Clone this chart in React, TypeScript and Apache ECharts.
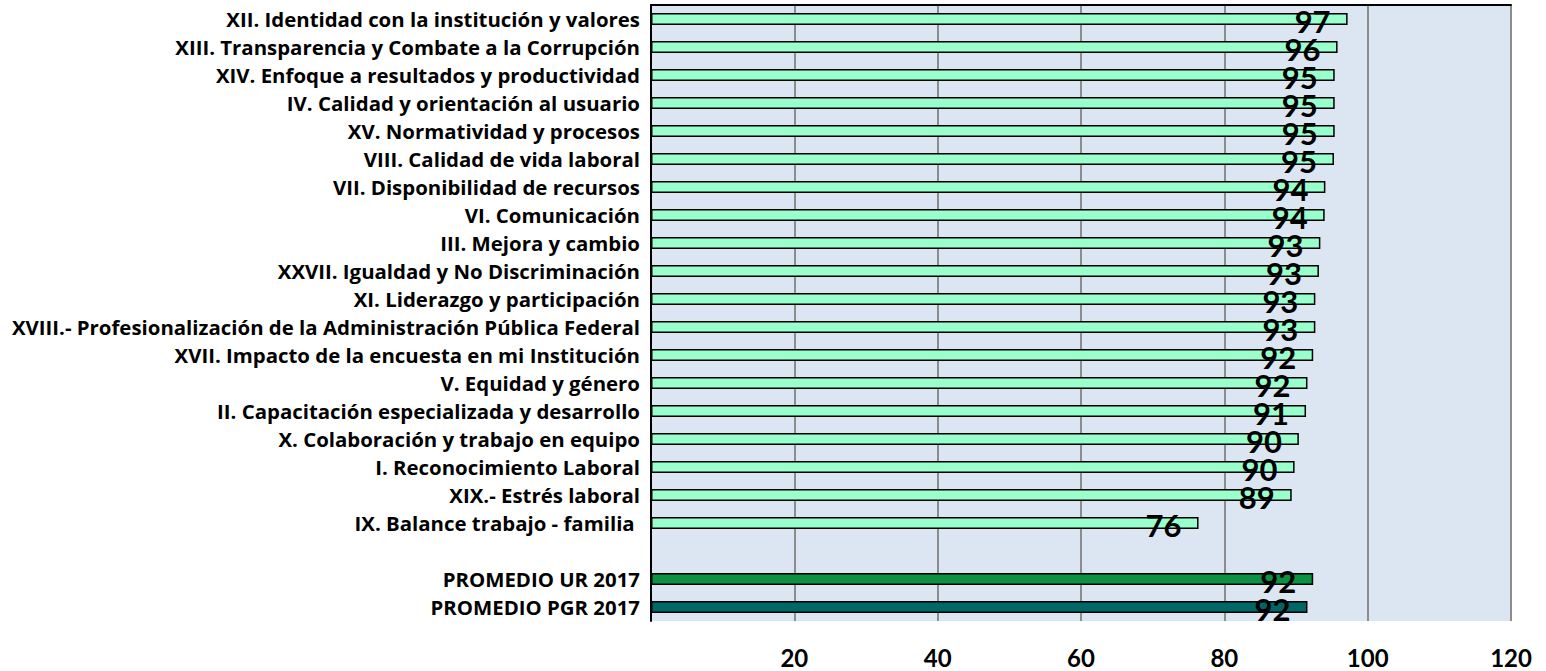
import React, { useEffect, useRef } from "react";
import * as echarts from "echarts";

const categories = [
  "XII. Identidad con la institución y valores",
  "XIII. Transparencia y Combate a la Corrupción",
  "XIV. Enfoque a resultados y productividad",
  "IV. Calidad y orientación al usuario",
  "XV. Normatividad y procesos",
  "VIII. Calidad de vida laboral",
  "VII. Disponibilidad de recursos",
  "VI. Comunicación",
  "III. Mejora y cambio",
  "XXVII. Igualdad y No Discriminación",
  "XI. Liderazgo y participación",
  "XVIII.- Profesionalización de la Administración Pública Federal",
  "XVII. Impacto de la encuesta en mi Institución",
  "V. Equidad y género",
  "II. Capacitación especializada y desarrollo",
  "X. Colaboración y trabajo en equipo",
  "I. Reconocimiento Laboral",
  "XIX.- Estrés laboral",
  "IX. Balance trabajo - familia ",
  "",
  "PROMEDIO UR 2017",
  "PROMEDIO PGR 2017",
];

const values: (number | null)[] = [
  97.2, 95.8, 95.4, 95.4, 95.4, 95.3, 94.1, 94.0, 93.4, 93.2, 92.7, 92.7,
  92.4, 91.6, 91.4, 90.4, 89.8, 89.4, 76.4, null, 92.4, 91.6,
];

const barColors = [
  ...Array(19).fill("#99FFCC"),
  "#99FFCC",
  "#0C9142",
  "#006666",
];

const xTicks = { min: 0, max: 120, interval: 20 };

export default function App() {
  const ref = useRef<HTMLDivElement>(null);
  useEffect(() => {
    if (!ref.current) return;
    const chart = echarts.init(ref.current, null, { renderer: "svg" });
    chart.setOption({
      animation: false,
      backgroundColor: "#ffffff",
      grid: {
        left: 651,
        right: 35,
        top: 5,
        bottom: 50,
        show: true,
        backgroundColor: "#DCE6F2",
        borderWidth: 0,
      },
      xAxis: [
        {
          type: "value",
          min: xTicks.min,
          max: xTicks.max,
          interval: xTicks.interval,
          position: "bottom",
          axisLine: { show: false },
          axisTick: { show: false },
          splitLine: { show: true, lineStyle: { color: "#8C8C8C", width: 2 } },
          axisLabel: {
            show: true,
            margin: 24,
            lineHeight: 24,
            color: "#000",
            fontFamily: "Lato",
            fontWeight: "bold",
            fontSize: 24,
            formatter: (v: number) => (v === 0 ? "" : String(v)),
          },
        },
        {
          type: "value",
          min: xTicks.min,
          max: xTicks.max,
          interval: xTicks.interval,
          position: "top",
          axisLine: { show: true, lineStyle: { color: "#000", width: 2 } },
          axisTick: { show: false },
          splitLine: { show: false },
          axisLabel: { show: false },
        },
      ],
      yAxis: {
        type: "category",
        inverse: true,
        data: categories,
        axisLine: { show: true, lineStyle: { color: "#000", width: 2 } },
        axisTick: { show: false },
        axisLabel: {
          margin: 11,
          color: "#000",
          fontFamily: "Open Sans",
          fontWeight: "bold",
          fontSize: 20.4,
        },
      },
      series: [
        {
          type: "bar",
          xAxisIndex: 0,
          barWidth: 12,
          data: values.map((v, i) => ({
            value: v,
            itemStyle: {
              color: barColors[i],
              borderColor: "#000",
              borderWidth: 1.5,
            },
          })),
          label: {
            show: true,
            position: "insideRight",
            distance: 17,
            offset: [0, 2],
            color: "#000",
            fontFamily: "Lato",
            fontWeight: "bold",
            fontSize: 31,
            formatter: (p: any) =>
              p.value == null ? "" : String(Math.round(p.value)),
          },
        },
      ],
    });
    return () => chart.dispose();
  }, []);
  return (
    <div
      ref={ref}
      style={{ position: "fixed", left: 0, top: 0, width: 1546, height: 671 }}
    />
  );
}
